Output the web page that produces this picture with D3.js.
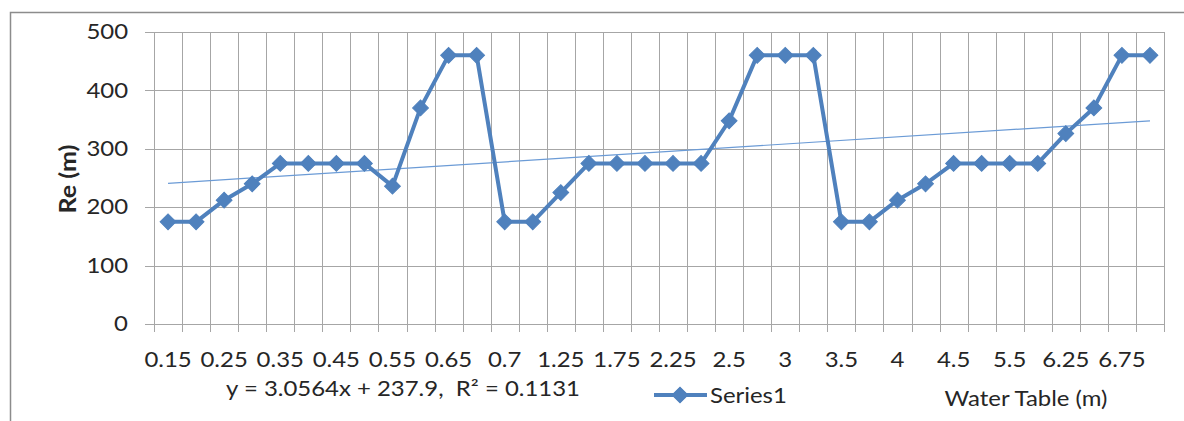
<!DOCTYPE html>
<html>
<head>
<meta charset="utf-8">
<script src="https://cdn.jsdelivr.net/npm/d3@7"></script>
<style>
  html, body { margin: 0; padding: 0; background: #fff; }
  svg { display: block; font-family: Lato, "Open Sans", sans-serif; }
</style>
</head>
<body>
<svg id="chart" width="1184" height="421"></svg>
<script>
// ---- data ----
const categories = [0.15, 0.2, 0.25, 0.3, 0.35, 0.4, 0.45, 0.5, 0.55, 0.6, 0.65, 0.68,
                    0.7, 1, 1.25, 1.5, 1.75, 2, 2.25, 2.4, 2.5, 2.75, 3, 3.25,
                    3.5, 3.75, 4, 4.25, 4.5, 5, 5.5, 6, 6.25, 6.5, 6.75, 7];
const reValues = [175, 175, 212, 240, 275, 275, 275, 275, 236, 370, 460, 460,
                  175, 175, 225, 275, 275, 275, 275, 275, 348, 460, 460, 460,
                  175, 175, 212, 240, 275, 275, 275, 275, 326, 370, 460, 460];
const yTicks = [0, 100, 200, 300, 400, 500];
const trendSlope = 3.0564, trendIntercept = 237.9;
const trendLabel = "y = 3.0564x + 237.9,\u00a0 R² = 0.1131";
const seriesName = "Series1";
const xTitle = "Water Table (m)";
const yTitle = "Re (m)";

const svg = d3.select("#chart");
const pLeft = 154, pRight = 1164, pTop = 32, pBottom = 324;
const blue = "#4f81bd", grid = "#a6a6a6", textCol = "#262626";
const SX = 1.14; // horizontal stretch to mimic the wider original face

// chart border
svg.append("rect").attr("x", 10.5).attr("y", 12.5).attr("width", 1200).attr("height", 450)
  .attr("fill", "none").attr("stroke", "#8c8c8c").attr("stroke-width", 1.5);

const idx = categories.map((d, i) => i);
const x = d3.scaleBand().domain(idx).range([pLeft, pRight]).padding(0);
const y = d3.scaleLinear().domain([0, 500]).range([pBottom, pTop]);

// horizontal gridlines (including the left tick stub)
svg.append("g").selectAll("line").data(yTicks).join("line")
  .attr("x1", pLeft - 9).attr("x2", pRight)
  .attr("y1", d => Math.round(y(d)) + 0.5).attr("y2", d => Math.round(y(d)) + 0.5)
  .attr("stroke", grid).attr("stroke-width", 1);

// vertical gridlines at category boundaries (with tick stubs below)
const bounds = idx.map(i => x(i)).concat([pRight]);
svg.append("g").selectAll("line").data(bounds).join("line")
  .attr("x1", d => Math.round(d) + 0.5).attr("x2", d => Math.round(d) + 0.5)
  .attr("y1", pTop).attr("y2", pBottom + 8)
  .attr("stroke", grid).attr("stroke-width", 1);

// y axis labels
const yAxis = svg.append("g").attr("transform", `translate(${pLeft - 9},0)`)
  .call(d3.axisLeft(y).tickValues(yTicks).tickSize(0));
yAxis.select(".domain").remove();
yAxis.selectAll("text").attr("font-family", "Lato, sans-serif").attr("font-size", 21).attr("fill", textCol)
  .attr("x", -17 / SX).attr("transform", `scale(${SX},1)`);

// x axis labels
const xAxis = svg.append("g").attr("transform", `translate(0,${pBottom})`)
  .call(d3.axisBottom(x).tickSize(0).tickPadding(28)
    .tickFormat(i => i % 2 === 0 ? String(categories[i]) : ""));
xAxis.select(".domain").remove();
xAxis.selectAll("text").attr("font-family", "Lato, sans-serif").attr("font-size", 21).attr("fill", textCol)
  .attr("transform", `scale(${SX},1)`);

// helper for stretched free text
function stretchedText(cxPos, yPos, str, anchor) {
  return svg.append("text")
    .attr("transform", `translate(${cxPos},${yPos}) scale(${SX},1)`)
    .attr("text-anchor", anchor)
    .attr("font-family", "Lato, sans-serif").attr("font-size", 21).attr("fill", textCol)
    .text(str);
}

// y title
svg.append("text").attr("transform", `translate(76,179) rotate(-90) scale(${SX},1)`)
  .attr("text-anchor", "middle").attr("font-family", "Lato, sans-serif").attr("font-weight", "bold")
  .attr("font-size", 22).attr("fill", textCol).text(yTitle);

// trend line
const cx = i => x(i) + x.bandwidth() / 2;
svg.append("line")
  .attr("x1", cx(0)).attr("y1", y(trendSlope * 1 + trendIntercept))
  .attr("x2", cx(idx.length - 1)).attr("y2", y(trendSlope * idx.length + trendIntercept))
  .attr("stroke", "#6b9bd6").attr("stroke-width", 1.2);

// series line
const line = d3.line().x((d, i) => cx(i)).y(d => y(d));
svg.append("path").datum(reValues).attr("d", line)
  .attr("fill", "none").attr("stroke", blue).attr("stroke-width", 4).attr("stroke-linejoin", "round");

const diamond = d3.symbol().type(d3.symbolSquare).size(125);
svg.append("g").selectAll("path").data(reValues).join("path")
  .attr("d", diamond)
  .attr("transform", (d, i) => `translate(${cx(i)},${y(d)}) rotate(45)`)
  .attr("fill", blue).attr("stroke", blue).attr("stroke-width", 1);

// trend equation
stretchedText(403, 396, trendLabel, "middle");

// legend
const lg = svg.append("g");
lg.append("line").attr("x1", 654).attr("x2", 707).attr("y1", 395).attr("y2", 395)
  .attr("stroke", blue).attr("stroke-width", 4);
lg.append("path").attr("d", diamond).attr("transform", "translate(680,395) rotate(45)")
  .attr("fill", blue).attr("stroke", blue);
stretchedText(710, 403, seriesName, "start");

// x title
stretchedText(1026, 406, xTitle, "middle");
</script>
</body>
</html>
